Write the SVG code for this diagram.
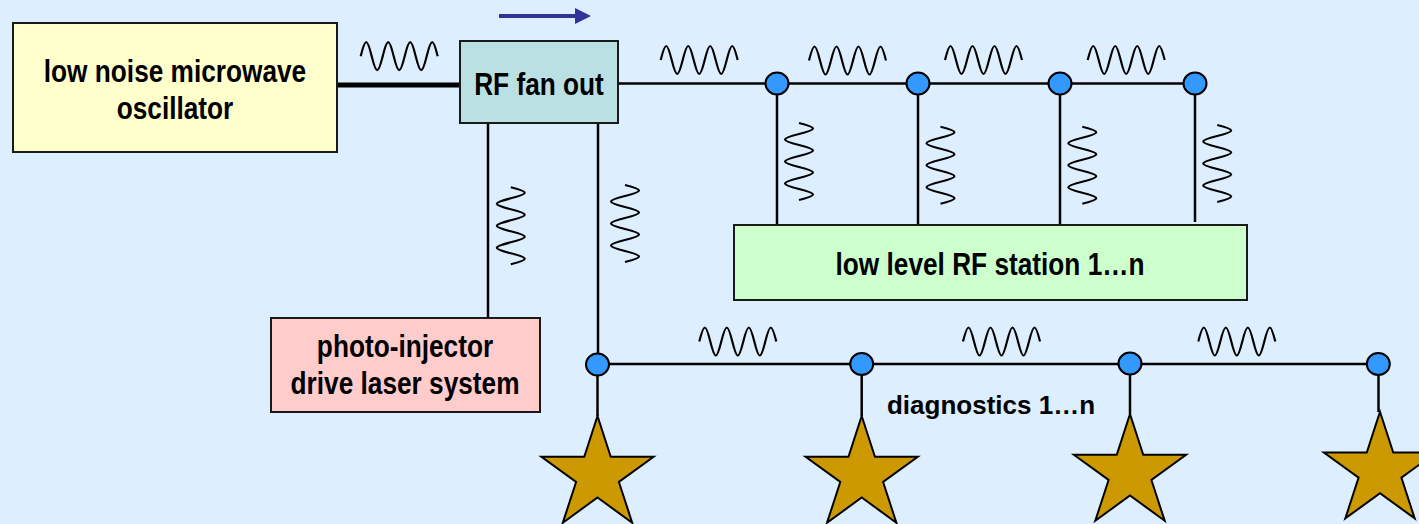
<svg xmlns="http://www.w3.org/2000/svg" xmlns:xlink="http://www.w3.org/1999/xlink" width="1419" height="524" viewBox="0 0 1419 524">
  <defs>
    <style>
      .box { stroke: #1a1a1a; stroke-width: 2; }
      .wire { stroke: #000; stroke-width: 2.5; fill: none; }
      .wave { stroke: #000; stroke-width: 2.2; fill: none; }
      .node { fill: #3399FF; stroke: #000; stroke-width: 2; }
      .star { fill: #CC9900; stroke: #000; stroke-width: 2; stroke-linejoin: miter; }
      .lbl { font-family: "Liberation Sans", Arial, sans-serif; font-weight: bold; font-size: 32px; fill: #000; text-anchor: middle; }
      .lbl2 { font-family: "Liberation Sans", Arial, sans-serif; font-weight: bold; font-size: 26px; fill: #000; text-anchor: middle; }
    </style>
    <!-- RF signal symbol: 3.5 sine periods, 77 px long -->
    <path id="wave" class="wave" d="M0,0 c4.67,-18.67 6.33,-18.67 11,0 c4.67,18.67 6.33,18.67 11,0 c4.67,-18.67 6.33,-18.67 11,0 c4.67,18.67 6.33,18.67 11,0 c4.67,-18.67 6.33,-18.67 11,0 c4.67,18.67 6.33,18.67 11,0 c4.67,-18.67 6.33,-18.67 11,0"/>
    <!-- five-pointed diagnostics marker -->
    <polygon id="star" class="star" points="0,-59 13.23,-18.2 56.11,-18.23 21.4,6.95 34.68,47.73 0,22.5 -34.68,47.73 -21.4,6.95 -56.11,-18.23 -13.23,-18.2"/>
  </defs>

  <rect x="0" y="0" width="1419" height="524" fill="#DDEEFF"/>

  <!-- signal direction arrow -->
  <g id="direction-arrow">
    <line x1="499" y1="16" x2="578" y2="16" stroke="#333399" stroke-width="4"/>
    <polygon points="575,8 591,16 575,24" fill="#333399"/>
  </g>

  <!-- connectors -->
  <g id="connectors">
    <line x1="337" y1="85" x2="460" y2="85" stroke="#000" stroke-width="5"/>
    <line class="wire" x1="618" y1="83.5" x2="1195" y2="83.5"/>
    <line class="wire" x1="777" y1="83.5" x2="777" y2="225"/>
    <line class="wire" x1="918" y1="83.5" x2="918" y2="225"/>
    <line class="wire" x1="1060" y1="83.5" x2="1060" y2="225"/>
    <line class="wire" x1="1195" y1="83.5" x2="1195" y2="222"/>
    <line class="wire" x1="488" y1="123" x2="488" y2="318"/>
    <line class="wire" x1="598" y1="123" x2="598" y2="364"/>
    <line class="wire" x1="598" y1="364" x2="1378" y2="364"/>
    <line class="wire" x1="597.5" y1="364" x2="597.5" y2="416"/>
    <line class="wire" x1="861.7" y1="364" x2="861.7" y2="416"/>
    <line class="wire" x1="1130" y1="364" x2="1130" y2="414"/>
    <line class="wire" x1="1378.5" y1="364" x2="1378.5" y2="412"/>

    <!-- RF symbols along the lines -->
    <use xlink:href="#wave" transform="translate(360.7,56.2)"/>
    <use xlink:href="#wave" transform="translate(660.7,60)"/>
    <use xlink:href="#wave" transform="translate(809,60.5)"/>
    <use xlink:href="#wave" transform="translate(945,60)"/>
    <use xlink:href="#wave" transform="translate(1087.7,60)"/>
    <use xlink:href="#wave" transform="translate(699.3,341.5)"/>
    <use xlink:href="#wave" transform="translate(963,341.5)"/>
    <use xlink:href="#wave" transform="translate(1198.3,341.5)"/>
    <use xlink:href="#wave" transform="translate(510.8,187.3) rotate(90)"/>
    <use xlink:href="#wave" transform="translate(625,185) rotate(90)"/>
    <use xlink:href="#wave" transform="translate(799,123) rotate(90)"/>
    <use xlink:href="#wave" transform="translate(940.5,126.7) rotate(90)"/>
    <use xlink:href="#wave" transform="translate(1082.3,126.7) rotate(90)"/>
    <use xlink:href="#wave" transform="translate(1217.2,125) rotate(90)"/>

    <!-- junctions -->
    <ellipse class="node" cx="777" cy="83.5" rx="11.5" ry="11"/>
    <ellipse class="node" cx="918" cy="83.5" rx="11.5" ry="11"/>
    <ellipse class="node" cx="1060" cy="83.5" rx="11.5" ry="11"/>
    <ellipse class="node" cx="1195" cy="83.5" rx="11.5" ry="11"/>
    <ellipse class="node" cx="597.5" cy="364.5" rx="11.5" ry="11"/>
    <ellipse class="node" cx="861.7" cy="364" rx="11.5" ry="11"/>
    <ellipse class="node" cx="1130" cy="363.5" rx="11.5" ry="11"/>
    <ellipse class="node" cx="1378.3" cy="364" rx="11.5" ry="11"/>
  </g>

  <g id="oscillator">
    <rect class="box" x="13" y="23" width="324" height="129" fill="#FFFFCC"/>
    <g transform="translate(175,0) scale(0.82,1)">
      <text class="lbl" x="0" y="82">low noise microwave</text>
      <text class="lbl" x="0" y="119">oscillator</text>
    </g>
  </g>

  <g id="rf-fan-out">
    <rect class="box" x="460" y="41" width="158" height="82" fill="#BBE0E3"/>
    <g transform="translate(539,0) scale(0.82,1)">
      <text class="lbl" x="0" y="95">RF fan out</text>
    </g>
  </g>

  <g id="llrf-station">
    <rect class="box" x="734" y="225" width="513" height="75" fill="#CCFFCC"/>
    <g transform="translate(990,0) scale(0.82,1)">
      <text class="lbl" x="0" y="275">low level RF station 1…n</text>
    </g>
  </g>

  <g id="drive-laser">
    <rect class="box" x="271" y="318" width="269" height="94" fill="#FFCCCC"/>
    <g transform="translate(405,0) scale(0.82,1)">
      <text class="lbl" x="0" y="357">photo-injector</text>
      <text class="lbl" x="0" y="394">drive laser system</text>
    </g>
  </g>

  <g id="diagnostics">
    <text class="lbl2" x="991" y="414">diagnostics 1…n</text>
    <use xlink:href="#star" transform="translate(597.5,475)"/>
    <use xlink:href="#star" transform="translate(861.7,475)"/>
    <use xlink:href="#star" transform="translate(1130,473)"/>
    <use xlink:href="#star" transform="translate(1380,470.7)"/>
  </g>
</svg>
